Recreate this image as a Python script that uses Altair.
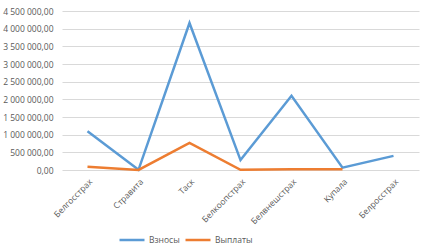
import altair as alt
import pandas as pd

categories = ["Белгосстрах", "Стравита", "Таск", "Белкоопстрах", "Белвнешстрах", "Купала", "Белросстрах"]
vznosy = [1100000, 5000, 4160000, 280000, 2100000, 65000, 400000]
vyplaty = [95000, 2000, 770000, 5000, 20000, 20000, None]
series = ["Взносы", "Выплаты"]

rows = []
for i, c in enumerate(categories):
    rows.append({"cat": c, "series": series[0], "value": vznosy[i]})
    rows.append({"cat": c, "series": series[1], "value": vyplaty[i]})
df = pd.DataFrame(rows)

font = "Open Sans"
grey = "#595959"

chart = alt.Chart(df).mark_line(strokeWidth=2.5).encode(
    x=alt.X("cat:N", sort=categories, title=None,
            scale=alt.Scale(type="point", padding=0.5),
            axis=alt.Axis(labelAngle=-45, labelFontSize=8.5, labelColor=grey, labelFont=font,
                          domain=False, ticks=False, labelPadding=7)),
    y=alt.Y("value:Q", title=None,
            scale=alt.Scale(domain=[0, 4500000], nice=False),
            axis=alt.Axis(values=list(range(0, 4500001, 500000)), labelFontSize=8.5, labelColor=grey,
                          labelFont=font, domain=False, ticks=False, labelPadding=9,
                          gridColor="#D9D9D9", gridWidth=1,
                          labelExpr="replace(replace(format(datum.value, ',.2f'), regexp(',', 'g'), ' '), '.', ',')")),
    color=alt.Color("series:N", sort=series,
                    scale=alt.Scale(domain=series, range=["#5B9BD5", "#ED7D31"]),
                    legend=alt.Legend(title=None, orient="none", direction="horizontal",
                                      legendX=56, legendY=215, symbolType="stroke",
                                      symbolSize=625, symbolStrokeWidth=2.5,
                                      labelFontSize=8.5, labelColor=grey, labelFont=font,
                                      columnPadding=0, labelOffset=3)),
).properties(
    width=357, height=159,
    autosize=alt.AutoSizeParams(type="none"),
    padding={"left": 62, "top": 11, "right": 4, "bottom": 80},
).configure_view(stroke=None)

chart.save("out.html", embed_options={"renderer": "svg", "actions": False})
